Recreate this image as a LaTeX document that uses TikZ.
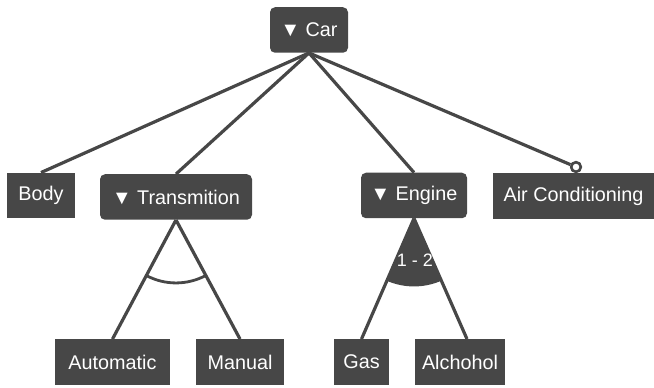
\documentclass[tikz,border=0pt]{standalone}
\usepackage{fontspec}
\setmainfont{Liberation Sans}
\begin{document}
\begin{tikzpicture}[x=1pt,y=1pt,
  feature/.style={fill=fm, text=white, inner sep=0pt, minimum height=45.5pt, font=\fontsize{19.8}{23}\selectfont},
  group/.style={feature, rounded corners=5pt},
  link/.style={draw=fm, line width=3.2pt},
  optdot/.style={circle, draw=fm, fill=white, line width=2.5pt, minimum size=9.5pt, inner sep=0pt}
]
\definecolor{fm}{HTML}{474747}
\useasboundingbox (0,0) rectangle (654,388);

% feature boxes (y measured upwards)
\node[group,   minimum width=78pt]  (car)   at (309,358)   {▼ Car};
\node[feature, minimum width=68pt]  (body)  at (41,192.5)  {Body};
\node[group,   minimum width=152pt] (trans) at (176,191)   {▼ Transmition};
\node[group,   minimum width=106pt] (eng)   at (414,192.5) {▼ Engine};
\node[feature, minimum width=161pt] (ac)    at (573.5,192) {Air Conditioning};
\node[feature, minimum width=115pt] (auto)  at (112.5,26)  {Automatic};
\node[feature, minimum width=88pt]  (man)   at (240,26)    {Manual};
\node[feature, minimum width=55pt]  (gas)   at (361.5,26)  {Gas};
\node[feature, minimum width=90pt]  (alc)   at (460,26)    {Alchohol};
\node[optdot] (acdot) at (576,221) {};

% Car children
\draw[link] (car.south) -- (body.north);
\draw[link] (car.south) -- (trans.north);
\draw[link] (car.south) -- (eng.north);
\draw[link] (car.south) -- (acdot);
\node[optdot] at (acdot) {};

% Transmition: alternative group
\draw[link] (trans.south) -- (auto.north);
\draw[link] (trans.south) -- (man.north);
\draw[draw=fm, line width=2.8pt] ([shift={(241.9:63)}]trans.south) arc[start angle=241.9, end angle=298.3, radius=63];

% Engine: or group with cardinality
\fill[fm] (eng.south) -- ++(246.5:68) arc[start angle=246.5, end angle=293.7, radius=68] -- cycle;
\draw[link] (eng.south) -- (gas.north);
\draw[link] (eng.south) -- ([xshift=7pt]alc.north);
\node[text=white, font=\fontsize{18}{21}\selectfont] (card) at (415,128) {1 - 2};
\end{tikzpicture}
\end{document}
